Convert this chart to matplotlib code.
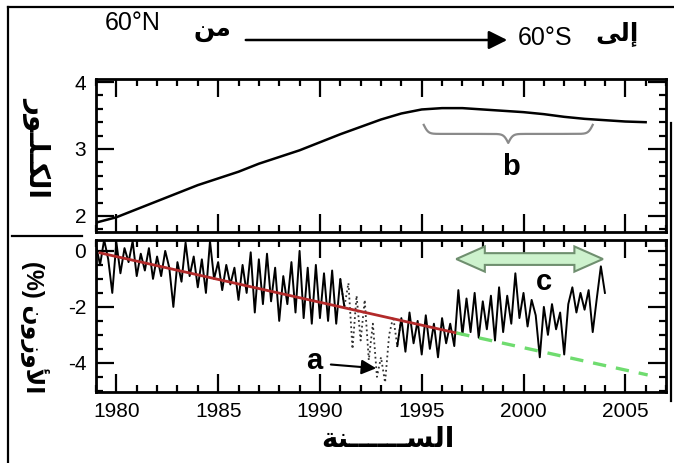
import numpy as np
import matplotlib
matplotlib.use('Agg')
import matplotlib.pyplot as plt
from matplotlib.ticker import MultipleLocator
from matplotlib.patches import Polygon, FancyArrowPatch
from matplotlib.lines import Line2D

plt.rcParams['font.family'] = ['Liberation Sans', 'DejaVu Sans']
plt.rcParams['axes.unicode_minus'] = False

# upper panel: chlorine (yearly)
years_cl = list(range(1979, 2007))
chlorine = [1.90, 1.98, 2.10, 2.22, 2.34, 2.46, 2.56, 2.66, 2.78, 2.88,
            2.98, 3.10, 3.22, 3.33, 3.44, 3.53, 3.59, 3.61, 3.61, 3.59,
            3.57, 3.55, 3.52, 3.48, 3.45, 3.43, 3.41, 3.40]

# lower panel: ozone anomaly (%), sampled every 0.2 yr
step = 0.2
start_a = 1979.0
ozone_a = [0.2,
           -0.5, 0.4, -0.3, -1.5, 0.3,
           -0.8, 0.1, -0.4, 0.35, -0.9,
           -0.1, -0.7, 0.1, -1.0, -0.2,
           -0.9, 0.0, -0.6, -2.0, -0.4,
           -1.1, 0.3, -0.9, -0.2, -1.3,
           -0.3, -1.5, 0.35, -1.0, -0.4,
           -1.4, -0.5, -1.2, -0.6, -1.75,
           -0.5, -1.5, -0.05, -2.2, -0.3,
           -1.9, -0.1, -1.8, -0.6, -2.5,
           -0.9, -1.9, -0.4, -2.2, 0.0,
           -2.4, -0.6, -2.6, -0.5, -2.4,
           -0.8, -2.5, -0.7, -2.6, -1.0,
           -2.0]
start_dot = 1991.0
ozone_dot = [-1.0, -2.0, -1.15, -3.5, -1.6, -3.2, -1.75, -3.9,
             -2.6, -4.5, -3.8, -4.7, -3.0, -2.35, -3.4, -2.4]
start_b = 1993.8
ozone_b = [-3.4, -2.4,
           -3.6, -2.2, -3.3, -2.5, -3.7,
           -2.3, -3.5, -2.6, -3.8, -2.4,
           -3.3, -2.6, -3.4, -1.4, -3.0,
           -1.7, -2.9, -1.5, -3.1, -1.8,
           -2.8, -1.6, -3.2, -1.3, -2.9,
           -1.6, -2.6, -0.8, -2.4, -1.5,
           -2.7, -1.75, -2.3, -3.8, -2.0,
           -3.0, -1.9, -2.8, -2.2, -3.7,
           -1.9, -1.3, -2.2, -1.5, -2.1,
           -1.4, -2.9, -1.7, -0.55, -1.5]

trend_years = [1979.2, 1996.7]
trend_vals = [-0.07, -2.93]
proj_years = [1996.7, 2006.1]
proj_vals = [-2.93, -4.43]

xticks = [1980, 1985, 1990, 1995, 2000, 2005]

# Arabic text, pre-shaped (presentation forms, visual order)
txt_from = '\uFEE6\uFEE3'
txt_to = '\uFEF0\uFEDF\uFE87'
txt_year = '\uFE94\uFEE8' + '\u0640' * 6 + '\uFEB4\uFEDF\uFE8D'
txt_cl = '\uFEAD\uFEEE\u0640\uFEE0\u0640\uFEDC\uFEDF\uFE8D'
txt_o3 = '(%) \uFEE5\uFEED\uFEAF\uFEED\uFEF7\uFE8D'


def yrs(start, vals):
    return start + step * np.arange(len(vals))


def style(ax):
    ax.set_xlim(1979, 2007)
    ax.set_xticks(xticks)
    ax.xaxis.set_minor_locator(MultipleLocator(1))
    ax.tick_params(which='both', direction='in', top=True, right=True,
                   width=1.6, labelsize=15, pad=7)
    ax.tick_params(which='major', length=13)
    ax.tick_params(which='minor', length=5)
    for s in ax.spines.values():
        s.set_linewidth(2)


fig = plt.figure(figsize=(6.74, 4.63), dpi=100)
ax1 = fig.add_axes([96 / 674, 1 - 232 / 463, 570 / 674, 153 / 463])
ax2 = fig.add_axes([96 / 674, 1 - 392 / 463, 570 / 674, 152 / 463])

# ---- upper panel
style(ax1)
ax1.set_ylim(1.76, 4.045)
ax1.yaxis.set_major_locator(MultipleLocator(1))
ax1.yaxis.set_minor_locator(MultipleLocator(0.2))
ax1.tick_params(labelbottom=False)
ax1.plot(years_cl, chlorine, color='k', lw=1.8)

# brace "b"
bx0, bx1, btop, bdepth = 1995.1, 2003.4, 3.36, 0.27
half = (bx1 - bx0) / 2
u = np.linspace(0, half, 300)
beta = 9.0
v = 1 / (1 + np.exp(-beta * u)) + 1 / (1 + np.exp(-beta * (u - half))) - 0.5
bxs = np.concatenate([bx0 + u, bx1 - u[::-1]])
bys = btop - bdepth * np.concatenate([v, v[::-1]])
ax1.plot(bxs, bys, color='#8a8a8a', lw=1.6)
ax1.text(1999.4, 2.73, 'b', fontsize=21, fontweight='bold', ha='center', va='center')

# ---- lower panel
style(ax2)
ax2.set_ylim(-5.04, 0.39)
ax2.yaxis.set_major_locator(MultipleLocator(2))
ax2.yaxis.set_minor_locator(MultipleLocator(0.5))

ax2.plot(yrs(start_dot, ozone_dot), ozone_dot, color='#333333', lw=1.3, ls=':')
ax2.plot(yrs(start_a, ozone_a), ozone_a, color='k', lw=1.4)
ax2.plot(yrs(start_b, ozone_b), ozone_b, color='k', lw=1.4)
ax2.plot(trend_years, trend_vals, color='#b22a2a', lw=2.0)
ax2.plot(proj_years, proj_vals, color='#6fdc6f', lw=2.4, ls=(0, (4, 3)))

# double arrow "c"
x0, x1, yc, hh, bh, hl = 1996.7, 2003.9, -0.29, 0.45, 0.21, 1.4
pts = [(x0, yc), (x0 + hl, yc + hh), (x0 + hl, yc + bh), (x1 - hl, yc + bh),
       (x1 - hl, yc + hh), (x1, yc), (x1 - hl, yc - hh), (x1 - hl, yc - bh),
       (x0 + hl, yc - bh), (x0 + hl, yc - hh)]
ax2.add_patch(Polygon(pts, closed=True, fc='#cdf2cd', ec='#6f8f6f', lw=1.5, zorder=3))
ax2.text(2001.0, -1.1, 'c', fontsize=21, fontweight='bold', ha='center', va='center')

ax2.annotate('', xy=(1992.9, -4.2), xytext=(1990.4, -4.05),
             arrowprops=dict(arrowstyle='-|>', color='k', lw=1.5, mutation_scale=22))
ax2.text(1989.7, -3.95, 'a', fontsize=21, fontweight='bold', ha='center', va='center')


# ---- header and labels
def fx(px):
    return px / 674


def fy(py):
    return 1 - py / 463


fig.text(fx(105), fy(23), '60°N', fontsize=18, va='center', ha='left')
fig.text(fx(212), fy(30), txt_from, fontsize=18, fontweight='bold', va='center', ha='center')
fig.add_artist(FancyArrowPatch((fx(243), fy(40)), (fx(510), fy(40)),
                               transform=fig.transFigure, arrowstyle='-|>',
                               mutation_scale=28, lw=1.8, color='k'))
fig.text(fx(518), fy(38), '60°S', fontsize=18, va='center', ha='left')
fig.text(fx(617), fy(34), txt_to, fontsize=18, fontweight='bold', va='center', ha='center')

fig.text(fx(388), fy(440), txt_year, fontsize=20, fontweight='bold', va='center', ha='center')
fig.text(fx(37), fy(147), txt_cl, fontsize=20, fontweight='bold', rotation=270,
         va='center', ha='center')
fig.text(fx(34), fy(327), txt_o3, fontsize=17, fontweight='bold', rotation=270,
         va='center', ha='center')

# scan frame lines
frame = dict(color='k', lw=1.6, transform=fig.transFigure)
fig.add_artist(Line2D([fx(8), fx(8)], [0, fy(7)], **frame))
fig.add_artist(Line2D([fx(8), 1], [fy(7), fy(7)], **frame))
fig.add_artist(Line2D([fx(12), fx(82)], [fy(236), fy(236)], **frame))
fig.add_artist(Line2D([fx(671), fx(671)], [fy(123), fy(401)], **frame))

fig.savefig('out.png', dpi=100)
